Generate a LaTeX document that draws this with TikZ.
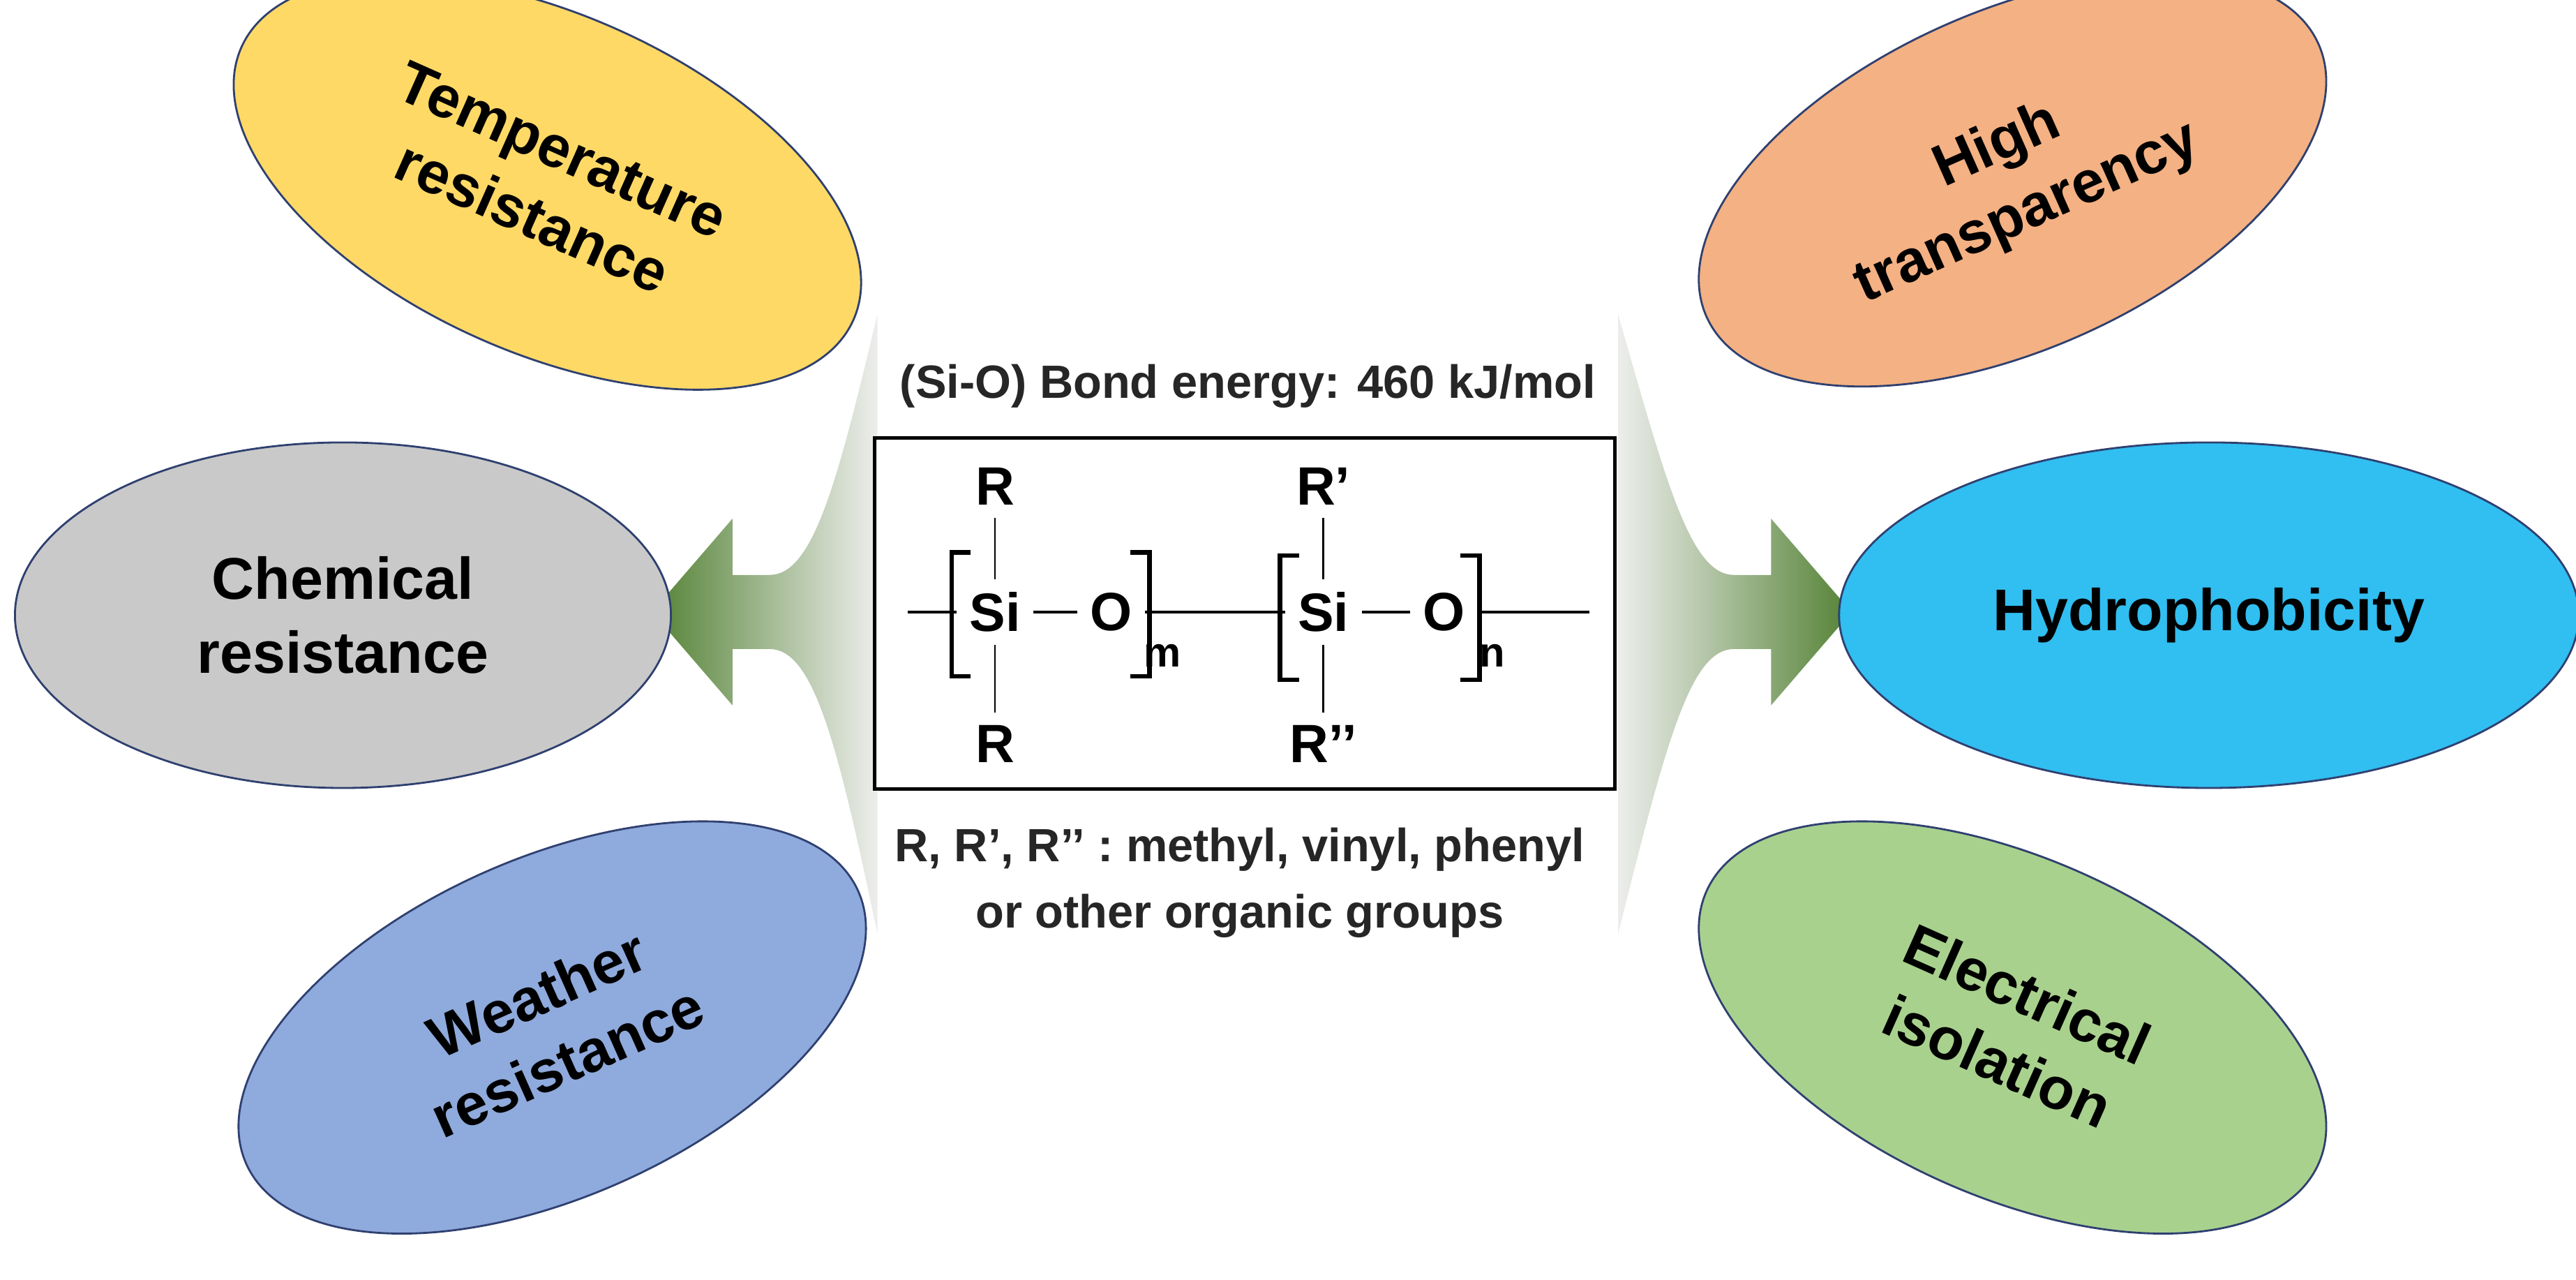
\documentclass[tikz,border=0pt]{standalone}
\usepackage{fontspec}
\setmainfont{Liberation Sans}
\usetikzlibrary{shapes.geometric}
\definecolor{cyel}{HTML}{FFD966}
\definecolor{cgray}{HTML}{C9C9C9}
\definecolor{cblue}{HTML}{8FAADC}
\definecolor{corg}{HTML}{F4B183}
\definecolor{ccyan}{HTML}{31BEF0}
\definecolor{cgreen}{HTML}{A9D18E}
\definecolor{cedge}{HTML}{2F4070}
\definecolor{agreen}{HTML}{548235}
\definecolor{afade}{HTML}{EDEEEC}
\definecolor{tdark}{HTML}{262626}
\begin{document}
\begin{tikzpicture}[x=0.023075cm,y=-0.023075cm,
  oval/.style={ellipse,draw=cedge,line width=0.8pt,inner sep=0pt,minimum width=9.4cm,minimum height=4.95cm,align=center,font=\fontsize{24}{30}\selectfont\bfseries},
  toval/.style={oval,minimum width=9.6cm,minimum height=4.85cm},
  chem/.style={font=\fontsize{22}{24}\selectfont\bfseries,inner sep=5pt},
  bond/.style={line width=1.3pt},
  brk/.style={line width=1.8pt},
  lbl/.style={font=\fontsize{19}{27}\selectfont\bfseries,text=tdark,align=center}]
\useasboundingbox (0,0) rectangle (1600,794.4);
% arrows
\shade[left color=agreen,right color=afade] (405,380) -- (455,322) -- (455,357) -- (478,357)
  .. controls (505,357) and (520,300) .. (545,195) -- (545,580)
  .. controls (520,460) and (505,403) .. (478,403) -- (455,403) -- (455,438) -- cycle;
\shade[left color=afade,right color=agreen] (1150,380) -- (1100,322) -- (1100,357) -- (1077,357)
  .. controls (1050,357) and (1035,300) .. (1005,195) -- (1005,580)
  .. controls (1035,460) and (1050,403) .. (1077,403) -- (1100,403) -- (1100,438) -- cycle;
% ovals
\node[toval,fill=cyel,rotate=-24] (temp) at (340,114) {Temperature\\resistance};
\node[oval,fill=cgray] (chem) at (213,382) {Chemical\\resistance};
\node[toval,fill=cblue,rotate=24] (weat) at (343,638) {Weather\\resistance};
\node[toval,fill=corg,rotate=24] (high) at (1250,112) {High\\transparency};
\node[oval,fill=ccyan,minimum width=10.6cm] (hydro) at (1372,382) {Hydrophobicity};
\node[toval,fill=cgreen,rotate=-24] (elec) at (1250,638) {Electrical\\isolation};
% box
\node[lbl] (bond) at (775,240) {(Si-O) Bond energy: 460 kJ/mol};
\node[draw,line width=1.4pt,inner sep=0pt,minimum width=10.61cm,minimum height=5.03cm] (box) at (773,381) {};
\node[lbl] (groups) at (770,548) {R, R’, R’’ : methyl, vinyl, phenyl\\or other organic groups};
% chemistry
\node[chem] (si1) at (618,380) {Si};
\node[chem] (o1) at (690,380) {O};
\node[chem] (si2) at (822,380) {Si};
\node[chem] (o2) at (897,380) {O};
\node[chem] (r1) at (618,302) {R};
\node[chem] (r2) at (618,462) {R};
\node[chem] (r3) at (822,302) {R’};
\node[chem] (r4) at (822,462) {R’’};
\node[font=\fontsize{17}{19}\selectfont\bfseries] (m) at (722,407) {m};
\node[font=\fontsize{17}{19}\selectfont\bfseries] (n) at (927,407) {n};
\coordinate (cl) at (564,380);
\coordinate (cr) at (987,380);
\draw[bond] (cl) -- (si1);
\draw[bond] (si1) -- (o1);
\draw[bond] (o1) -- (si2);
\draw[bond] (si2) -- (o2);
\draw[bond] (o2) -- (cr);
\draw[line width=0.8pt] (si1) -- (r1); \draw[line width=0.8pt] (si1) -- (r2);
\draw[line width=0.8pt] (si2) -- (r3); \draw[line width=0.8pt] (si2) -- (r4);
\draw[brk] (603,343) -- (591,343) -- (591,420) -- (603,420);
\draw[brk] (702,343) -- (714,343) -- (714,420) -- (702,420);
\draw[brk] (807,345) -- (795,345) -- (795,422) -- (807,422);
\draw[brk] (907,345) -- (919,345) -- (919,422) -- (907,422);
\end{tikzpicture}
\end{document}
